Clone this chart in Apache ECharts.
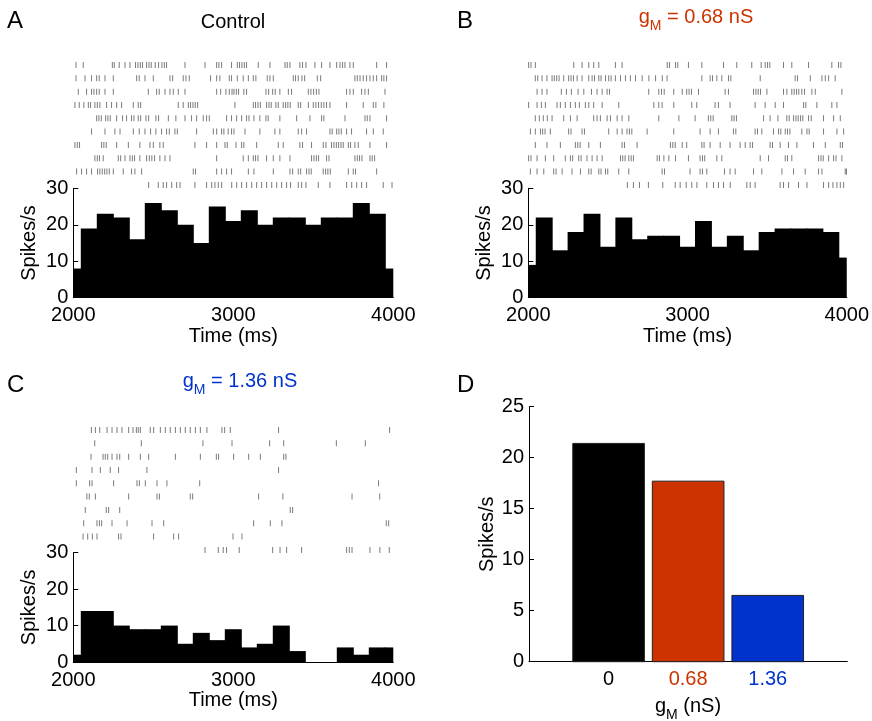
<!DOCTYPE html>
<html><head><meta charset="utf-8">
<script src="https://cdn.jsdelivr.net/npm/echarts@6/dist/echarts.min.js"></script>
<style>html,body{margin:0;padding:0;background:#fff}#c{width:872px;height:721px}</style>
</head><body><div id="c"></div>
<script>
// ---------- data ----------
const binCenters = [2000,2100,2200,2300,2400,2500,2600,2700,2800,2900,3000,3100,3200,3300,3400,3500,3600,3700,3800,3900,4000];
const timeTicks = [2000, 3000, 4000];
const histA = [8,19,23,22,16,26,24,20,15,25,21,24,20,22,22,20,22,22,26,23,8];
const histB = [9,22,13,18,23,14,22,16,17,17,14,21,14,17,13,18,19,19,19,18,11];
const histC = [2,14,14,10,9,9,10,5,8,6,9,4,5,10,3,0,0,4,2,4,4];
const gmLabels = ['0', '0.68', '1.36'];
const meanRates = [21.4, 17.7, 6.5];

const rasterA = [
 [2017,2062,2244,2256,2287,2323,2354,2389,2404,2419,2433,2458,2473,2487,2512,2533,2554,2569,2583,2698,2823,2896,2910,2927,2989,3025,3039,3054,3069,3083,3156,3229,3323,3337,3354,3416,3433,3454,3510,3552,3604,3646,3667,3683,3698,3729,3750,3896,3958],
 [2017,2073,2114,2146,2162,2198,2250,2396,2412,2448,2500,2604,2621,2687,2704,2725,2858,2896,2916,2975,2989,3025,3062,3094,3125,3141,3212,3229,3250,3375,3389,3406,3429,3446,3525,3546,3760,3775,3792,3812,3833,3854,3875,3896,3927,3941,3958],
 [2031,2083,2114,2129,2146,2162,2198,2250,2469,2521,2537,2573,2604,2625,2656,2698,2896,2921,2954,2975,2992,3004,3019,3033,3066,3083,3204,3221,3246,3262,3291,3344,3364,3469,3485,3502,3519,3535,3708,3729,3750,3802,3823,3844,3948],
 [2010,2037,2066,2094,2108,2135,2150,2166,2208,2239,2271,2302,2375,2406,2421,2656,2687,2719,2733,2748,2762,2777,3010,3125,3139,3154,3169,3208,3223,3237,3266,3281,3312,3327,3341,3356,3406,3421,3469,3500,3516,3533,3550,3566,3583,3604,3708,3812,3875,3891,3941],
 [2146,2160,2175,2202,2216,2231,2271,2308,2333,2364,2379,2406,2421,2454,2471,2516,2533,2594,2641,2698,2739,2771,2812,2833,2850,2958,2989,3021,3052,3083,3098,3129,3166,3204,3218,3291,3396,3479,3552,3566,3698,3823,3837,3854,3958],
 [2114,2198,2260,2292,2375,2412,2448,2483,2516,2552,2583,2600,2635,2650,2771,2875,2896,2927,2941,2968,2989,3004,3073,3166,3260,3291,3406,3427,3458,3604,3618,3646,3660,3675,3708,3739,3833,3875,3937],
 [2010,2025,2039,2177,2191,2206,2271,2344,2416,2479,2500,2541,2562,2760,2833,2896,2948,2962,3017,3052,3066,3146,3281,3312,3416,3433,3489,3562,3579,3614,3629,3644,3658,3673,3687,3719,3733,3760,3781,3854,3958],
 [2135,2150,2164,2187,2281,2296,2323,2354,2369,2383,2416,2458,2475,2491,2508,2541,2573,2604,2896,3062,3094,3125,3139,3154,3208,3250,3291,3354,3489,3504,3519,3533,3583,3598,3760,3775,3789,3804,3854,3868,3883],
 [2021,2052,2083,2114,2152,2166,2181,2196,2210,2225,2250,2312,2364,2385,2427,2750,2764,2896,2927,2958,2989,3094,3129,3250,3354,3371,3406,3421,3458,3473,3487,3562,3577,3591,3606,3719,3750,3764,3896],
 [2471,2531,2562,2583,2615,2646,2667,2760,2833,2865,2885,2906,2927,2990,3021,3052,3083,3115,3146,3177,3208,3240,3271,3302,3333,3358,3406,3427,3454,3531,3604,3708,3740,3771,3802,3833,3937,3992]
];
const rasterB = [
 [2002,2017,2044,2285,2337,2379,2410,2442,2546,2588,2871,2885,2923,2937,3004,3088,3224,3307,3401,3460,3485,3500,3514,3600,3652,3757,3903,3945,3960],
 [2044,2059,2086,2117,2149,2163,2178,2193,2222,2253,2268,2283,2306,2337,2379,2400,2415,2442,2456,2484,2504,2519,2546,2578,2609,2640,2672,2714,2756,2798,2840,2870,3088,3140,3155,3182,3213,3255,3270,3454,3673,3688,3768,3841,3862,3883,3924],
 [2055,2086,2117,2207,2239,2270,2312,2348,2396,2431,2463,2494,2509,2755,2818,2835,2852,2912,2965,2993,3008,3023,3067,3234,3255,3412,3427,3441,3456,3496,3600,3621,3652,3667,3682,3696,3715,3732,3778,3799,3966],
 [2002,2055,2082,2107,2180,2201,2232,2264,2295,2320,2358,2379,2410,2463,2567,2787,2818,2839,2912,3025,3056,3171,3192,3265,3422,3485,3548,3600,3726,3740,3809,3903,3935],
 [2044,2069,2094,2119,2149,2222,2264,2306,2410,2431,2452,2494,2515,2557,2588,2630,2818,2944,3046,3129,3144,3159,3276,3290,3305,3475,3516,3565,3621,3636,3663,3678,3692,3707,3721,3757,3774,3851,3914,3956],
 [2013,2044,2076,2090,2105,2138,2253,2268,2337,2352,2504,2557,2588,2619,2634,2649,2745,2912,3077,3140,3192,3286,3301,3422,3437,3464,3537,3569,3583,3611,3625,3640,3715,3747,3761,3851,3935,3977],
 [2044,2117,2201,2295,2310,2325,2379,2452,2588,2603,2682,2891,2906,2921,2965,2993,3088,3102,3140,3203,3265,3328,3360,3391,3406,3516,3531,3579,3631,3684,3788,3862,3956,3970],
 [2002,2017,2055,2107,2159,2232,2264,2278,2316,2331,2368,2400,2431,2463,2578,2592,2607,2630,2645,2659,2808,2822,2850,2881,2923,3004,3077,3092,3106,3182,3213,3454,3506,3611,3625,3652,3820,3835,3849,3883,3914,3929,3966],
 [2013,2055,2097,2159,2174,2212,2274,2327,2379,2394,2442,2456,2484,2498,2567,2630,2839,2854,3014,3077,3092,3119,3230,3265,3297,3412,3464,3590,3663,3736,3820,3841,3987,3995],
 [2621,2659,2697,2753,2843,2921,2952,2990,3025,3057,3119,3161,3192,3224,3266,3370,3391,3422,3579,3600,3632,3694,3747,3851,3883,3910,3935,3956,3977]
];
const rasterC = [
 [2113,2138,2165,2211,2242,2273,2304,2346,2373,2394,2406,2419,2481,2502,2544,2575,2606,2638,2669,2700,2731,2763,2794,2835,2929,2946,2981,3283,3977],
 [2134,2425,2810,2992,3227,3315,3644,3825],
 [2111,2186,2200,2215,2242,2273,2290,2346,2419,2471,2638,2794,2894,2908,3002,3096,3169,3315,3329],
 [2019,2117,2169,2231,2283,2460,3283],
 [2019,2102,2117,2252,2398,2413,2450,2523,2585,2790,3908],
 [2085,2100,2138,2346,2523,2538,2731,2746,3158,3310,3742,3915],
 [2075,2206,2221,2290,3356,3371],
 [2065,2148,2163,2177,2242,2336,2492,2565,3127,3231,3304,3956,3971],
 [2061,2090,2119,2148,2283,2298,2502,2627,2658,2998,3054],
 [2823,2906,2937,2958,3037,3246,3292,3333,3427,3708,3725,3742,3854,3916,3975]
];

// ---------- styling ----------
const FONT = 'Liberation Sans';
const FS = 20;
const RED = '#CC3300';
const BLUE = '#0033CC';
const TICK_GRAY = '#7a7a7a';

const chart = echarts.init(document.getElementById('c'), null, {renderer: 'canvas'});

const grids = [
  {left: 73.3, top: 58.3, width: 320, height: 133.3},   // 0 A raster
  {left: 73.3, top: 188.3, width: 320, height: 109.4},  // 1 A hist
  {left: 528.3, top: 58.3, width: 319, height: 133.3},  // 2 B raster
  {left: 528.3, top: 188.3, width: 319, height: 109.4}, // 3 B hist
  {left: 73.3, top: 423.3, width: 320, height: 133.3},  // 4 C raster
  {left: 73.3, top: 552.7, width: 320, height: 109.3},  // 5 C hist
  {left: 529, top: 406.7, width: 318.3, height: 255}    // 6 D
];

const labelStyle = {fontFamily: FONT, fontSize: FS, color: '#000'};

function rasterAxes(g) {
  return {
    x: {gridIndex: g, type: 'value', min: 2000, max: 4000, show: false},
    y: {gridIndex: g, type: 'value', min: 0.5, max: 10.5, inverse: true, show: false}
  };
}
function histAxes(g) {
  return {
    x: {gridIndex: g, type: 'value', min: 2000, max: 4000, interval: 1000,
        axisLine: {show: true, onZero: false, lineStyle: {color: '#000', width: 1}},
        axisTick: {show: false}, splitLine: {show: false},
        axisLabel: Object.assign({margin: 8, formatter: v => timeTicks.indexOf(v) >= 0 ? String(v) : ''}, labelStyle),
        name: 'Time (ms)', nameLocation: 'middle', nameGap: 27,
        nameTextStyle: labelStyle},
    y: {gridIndex: g, type: 'value', min: 0, max: 30, interval: 10,
        axisLine: {show: true, lineStyle: {color: '#000', width: 1}},
        axisTick: {show: true, inside: true, length: 5, lineStyle: {color: '#000'}},
        splitLine: {show: false},
        axisLabel: Object.assign({margin: 5}, labelStyle),
        name: 'Spikes/s', nameLocation: 'middle', nameGap: 34, nameRotate: 90,
        nameTextStyle: labelStyle}
  };
}

const axA = rasterAxes(0), hA = histAxes(1), axB = rasterAxes(2), hB = histAxes(3), axC = rasterAxes(4), hC = histAxes(5);

const xD = {gridIndex: 6, type: 'value', min: 0, max: 4, interval: 1,
  axisLine: {show: true, onZero: false, lineStyle: {color: '#000', width: 1}},
  axisTick: {show: false}, splitLine: {show: false},
  axisLabel: {margin: 8, fontFamily: FONT, fontSize: FS,
    formatter: v => {
      const i = Math.round(v) - 1;
      if (i < 0 || i >= gmLabels.length) return '';
      return '{c' + i + '|' + gmLabels[i] + '}';
    },
    rich: {
      c0: {fontFamily: FONT, fontSize: FS, color: '#000'},
      c1: {fontFamily: FONT, fontSize: FS, color: RED},
      c2: {fontFamily: FONT, fontSize: FS, color: BLUE}
    }
  }
};
const yD = {gridIndex: 6, type: 'value', min: 0, max: 25, interval: 5,
  axisLine: {show: true, lineStyle: {color: '#000', width: 1}},
  axisTick: {show: true, inside: true, length: 5, lineStyle: {color: '#000'}},
  splitLine: {show: false},
  axisLabel: Object.assign({margin: 5}, labelStyle),
  name: 'Spikes/s', nameLocation: 'middle', nameGap: 32, nameRotate: 90,
  nameTextStyle: labelStyle};

function rasterSeries(idx, raster) {
  const data = [];
  raster.forEach((row, i) => row.forEach(t => data.push([t, i + 1])));
  return {type: 'scatter', xAxisIndex: idx, yAxisIndex: idx, data: data,
    symbol: 'rect', symbolSize: [1, 6], itemStyle: {color: TICK_GRAY, opacity: 1},
    silent: true, animation: false, z: 3};
}

function histSeries(idx, vals) {
  return {type: 'custom', xAxisIndex: idx, yAxisIndex: idx,
    data: binCenters.map((c, i) => [c, vals[i]]),
    renderItem: function (params, api) {
      const c = api.value(0), v = api.value(1);
      const p0 = api.coord([c - 50, v]);
      const p1 = api.coord([c + 50, 0]);
      const cs = params.coordSys;
      // widen slightly so neighbouring bins merge without seams
      const r = echarts.graphic.clipRectByRect(
        {x: p0[0] - 0.5, y: p0[1], width: p1[0] - p0[0] + 1, height: p1[1] - p0[1]},
        {x: cs.x, y: cs.y, width: cs.width, height: cs.height});
      if (!r) return null;
      return {type: 'rect', shape: r, style: {fill: '#000'}};
    },
    silent: true, animation: false, z: 2};
}

const barColors = ['#000000', RED, BLUE];
const dSeries = {type: 'custom', xAxisIndex: 6, yAxisIndex: 6,
  data: meanRates.map((v, i) => [i + 1, v]),
  renderItem: function (params, api) {
    const c = api.value(0), v = api.value(1);
    const p0 = api.coord([c - 0.45, v]);
    const p1 = api.coord([c + 0.45, 0]);
    return {type: 'rect', shape: {x: p0[0], y: p0[1], width: p1[0] - p0[0], height: p1[1] - p0[1]},
      style: {fill: barColors[params.dataIndex], stroke: '#222', lineWidth: 1}};
  },
  silent: true, animation: false, z: 2};

function letter(t, x, y) {
  return {type: 'text', x: x, y: y, style: {text: t, fontFamily: FONT, fontSize: 24, fill: '#000', align: 'left', verticalAlign: 'middle'}};
}
function gTitle(val, color, cx, top) {
  return {type: 'text', x: cx, y: top,
    style: {text: '{b|g}{s|M}{b| = ' + val + ' nS}', align: 'center', verticalAlign: 'top',
      rich: {
        b: {fontFamily: FONT, fontSize: FS, fill: color, lineHeight: 22, verticalAlign: 'top'},
        s: {fontFamily: FONT, fontSize: 14, fill: color, lineHeight: 14, padding: [12, 0, 0, 0], verticalAlign: 'top'}
      }}};
}

const option = {
  backgroundColor: '#fff',
  animation: false,
  grid: grids,
  xAxis: [axA.x, hA.x, axB.x, hB.x, axC.x, hC.x, xD],
  yAxis: [axA.y, hA.y, axB.y, hB.y, axC.y, hC.y, yD],
  series: [
    rasterSeries(0, rasterA), histSeries(1, histA),
    rasterSeries(2, rasterB), histSeries(3, histB),
    rasterSeries(4, rasterC), histSeries(5, histC),
    dSeries
  ],
  graphic: [
    letter('A', 7, 21), letter('B', 457, 21), letter('C', 7, 385), letter('D', 457, 385),
    {type: 'text', x: 233, y: 22, style: {text: 'Control', fontFamily: FONT, fontSize: FS, fill: '#000', align: 'center', verticalAlign: 'middle'}},
    gTitle('0.68', RED, 696, 7),
    gTitle('1.36', BLUE, 240, 371),
    {type: 'text', x: 688, y: 707, style: {text: '{b|g}{s|M}{b| (nS)}', align: 'center', verticalAlign: 'middle',
      rich: {
        b: {fontFamily: FONT, fontSize: FS, fill: '#000', lineHeight: 22, verticalAlign: 'top'},
        s: {fontFamily: FONT, fontSize: 14, fill: '#000', lineHeight: 14, padding: [12, 0, 0, 0], verticalAlign: 'top'}
      }}}
  ]
};
chart.setOption(option);
</script>
</body></html>
